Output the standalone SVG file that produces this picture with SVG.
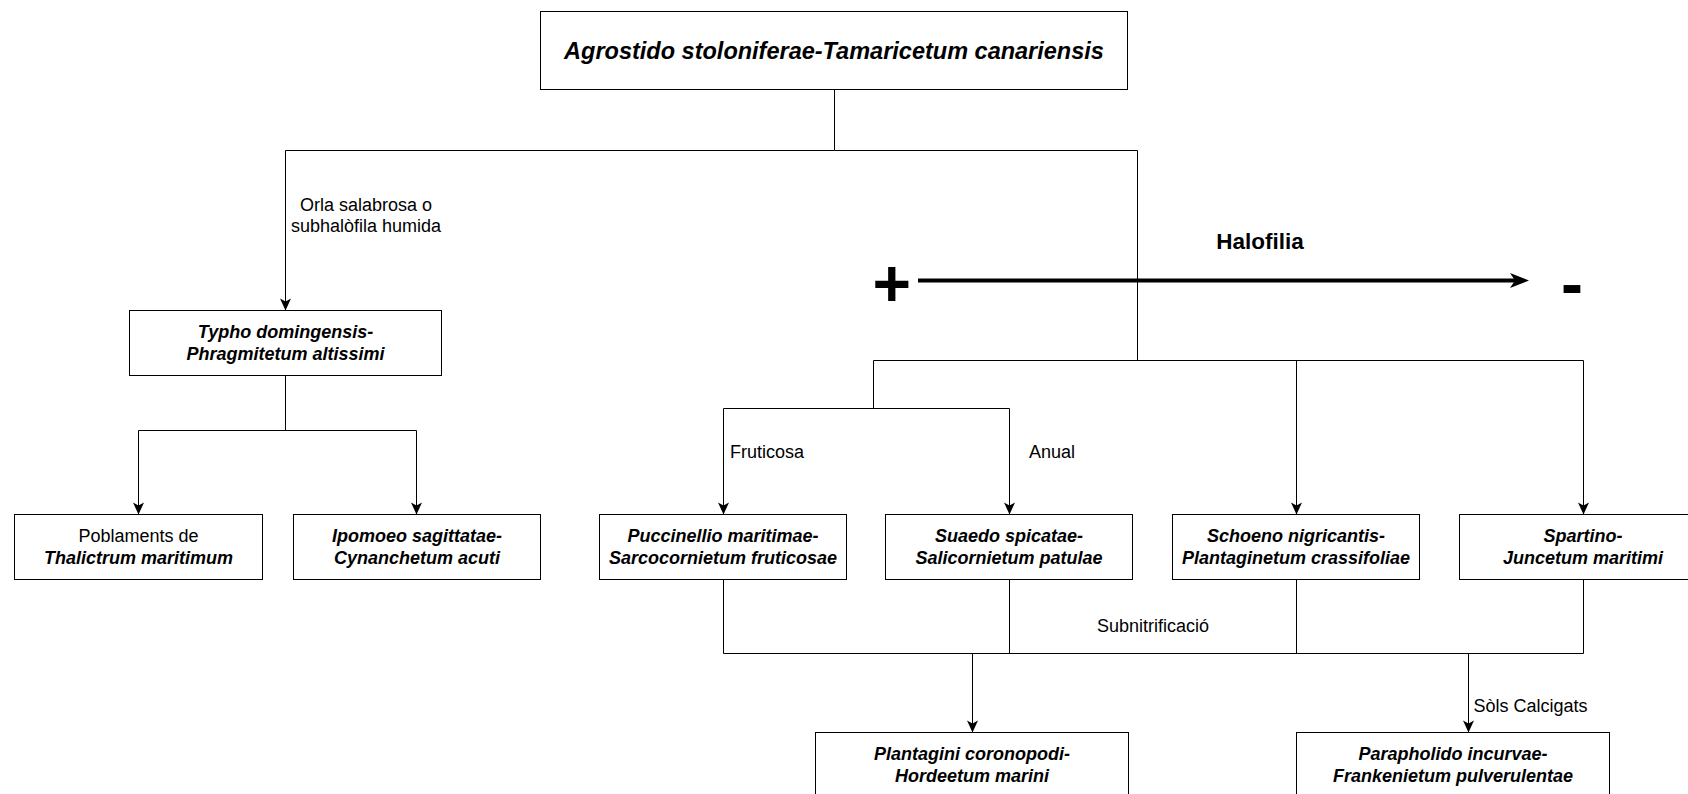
<svg xmlns="http://www.w3.org/2000/svg" width="1688" height="794" viewBox="0 0 1688 794">
<style>
.box{fill:#fff;stroke:#000;stroke-width:1}
.t{font-family:"Liberation Sans",Arial,Helvetica,sans-serif;font-size:18px;fill:#000;text-anchor:middle}
.bi{font-weight:bold;font-style:italic}
.lbl{font-family:"Liberation Sans",Arial,Helvetica,sans-serif;font-size:18px;fill:#000}
.ln{fill:none;stroke:#000;stroke-width:1}
.arr{marker-end:url(#ah)}
.title{font-size:23.5px}
.halo{font-size:22.5px;font-weight:bold;text-anchor:middle}
.sign{font-size:66px;font-weight:bold;text-anchor:middle}
</style>
<defs>
<marker id="ah" markerUnits="userSpaceOnUse" markerWidth="14" markerHeight="12" viewBox="-13 -6 14 12" refX="0" refY="0" orient="auto">
<path d="M0,0 L-12,-5.5 L-9,0 L-12,5.5 Z" fill="#000"/>
</marker>
</defs>
<g id="connectors">
<path class="ln" d="M834.5,89.5 V150.5 H285.5"/>
<path class="ln arr" d="M285.5,150.5 V310.5"/>
<path class="ln" d="M834.5,150.5 H1137.5 V360.5"/>
<path class="ln" d="M873.5,360.5 H1583.5"/>
<path class="ln" d="M873.5,360.5 V408.5 M723.5,408.5 H1009.5"/>
<path class="ln arr" d="M723.5,408.5 V514.5"/>
<path class="ln arr" d="M1009.5,408.5 V514.5"/>
<path class="ln arr" d="M1296.5,360.5 V514.5"/>
<path class="ln arr" d="M1583.5,360.5 V514.5"/>
<path class="ln" d="M285.5,375.5 V430.5 M138.5,430.5 H416.5"/>
<path class="ln arr" d="M138.5,430.5 V514.5"/>
<path class="ln arr" d="M416.5,430.5 V514.5"/>
<path class="ln" d="M723.5,579.5 V653.5 H1583.5 M1009.5,579.5 V653.5 M1296.5,579.5 V653.5 M1583.5,579.5 V653.5"/>
<path class="ln arr" d="M972.5,653.5 V732.5"/>
<path class="ln arr" d="M1468.5,653.5 V732.5"/>
<path d="M918,280.5 H1516" fill="none" stroke="#000" stroke-width="4"/>
<path d="M1529,280.5 L1510,273 L1515,280.5 L1510,288 Z" fill="#000"/>
<text class="lbl" x="366" y="210.5" text-anchor="middle">Orla salabrosa o</text>
<text class="lbl" x="366" y="232" text-anchor="middle">subhalòfila humida</text>
<text class="lbl" x="730" y="458">Fruticosa</text>
<text class="lbl" x="1029" y="458">Anual</text>
<text class="lbl" x="1153" y="631.5" text-anchor="middle">Subnitrificació</text>
<text class="lbl" x="1473.5" y="712">Sòls Calcigats</text>
</g>
<g id="halofilia">
<text class="lbl halo" x="1260" y="249">Halofilia</text>
<text class="lbl sign" x="891.7" y="306">+</text>
<text class="lbl sign" x="1572" y="306">-</text>
</g>
<g id="n-agrostido">
<rect class="box" x="540.5" y="11.5" width="587" height="78"/>
<text class="t bi title" x="834" y="59">Agrostido stoloniferae-Tamaricetum canariensis</text>
</g>
<g id="n-typho">
<rect class="box" x="129.5" y="310.5" width="312" height="65"/>
<text class="t bi" x="285.5" y="338.4">Typho domingensis-</text>
<text class="t bi" x="285.5" y="360">Phragmitetum altissimi</text>
</g>
<g id="n-thalictrum">
<rect class="box" x="14.5" y="514.5" width="248" height="65"/>
<text class="t" x="138.5" y="542.4">Poblaments de</text>
<text class="t bi" x="138.5" y="564">Thalictrum maritimum</text>
</g>
<g id="n-ipomoeo">
<rect class="box" x="293.5" y="514.5" width="247" height="65"/>
<text class="t bi" x="417" y="542.4">Ipomoeo sagittatae-</text>
<text class="t bi" x="417" y="564">Cynanchetum acuti</text>
</g>
<g id="n-puccinellio">
<rect class="box" x="599.5" y="514.5" width="247" height="65"/>
<text class="t bi" x="723" y="542.4">Puccinellio maritimae-</text>
<text class="t bi" x="723" y="564">Sarcocornietum fruticosae</text>
</g>
<g id="n-suaedo">
<rect class="box" x="885.5" y="514.5" width="247" height="65"/>
<text class="t bi" x="1009" y="542.4">Suaedo spicatae-</text>
<text class="t bi" x="1009" y="564">Salicornietum patulae</text>
</g>
<g id="n-schoeno">
<rect class="box" x="1172.5" y="514.5" width="247" height="65"/>
<text class="t bi" x="1296" y="542.4">Schoeno nigricantis-</text>
<text class="t bi" x="1296" y="564">Plantaginetum crassifoliae</text>
</g>
<g id="n-spartino">
<rect class="box" x="1459.5" y="514.5" width="247" height="65"/>
<text class="t bi" x="1583" y="542.4">Spartino-</text>
<text class="t bi" x="1583" y="564">Juncetum maritimi</text>
</g>
<g id="n-plantagini">
<rect class="box" x="815.5" y="732.5" width="313" height="65"/>
<text class="t bi" x="972" y="760.4">Plantagini coronopodi-</text>
<text class="t bi" x="972" y="782">Hordeetum marini</text>
</g>
<g id="n-parapholido">
<rect class="box" x="1296.5" y="732.5" width="313" height="65"/>
<text class="t bi" x="1453" y="760.4">Parapholido incurvae-</text>
<text class="t bi" x="1453" y="782">Frankenietum pulverulentae</text>
</g>
</svg>
